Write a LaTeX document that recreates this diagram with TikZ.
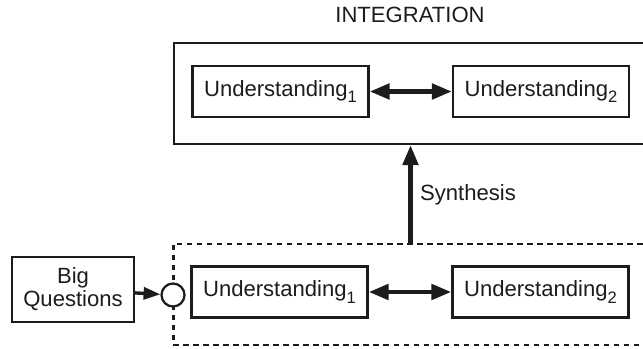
\documentclass[tikz,border=0pt]{standalone}
\usepackage{fontspec}
\setmainfont{Liberation Sans}
\usepackage{tikz}
\usetikzlibrary{arrows.meta,positioning}
\definecolor{inkdark}{RGB}{30,27,28}
\newcommand{\lowidx}[1]{\raisebox{-4.3pt}{\fontsize{11.8}{12}\selectfont #1}}

\begin{document}
\begin{tikzpicture}[
        x=0.025cm, y=-0.025cm,
        line width=1.6pt, color=inkdark,
        font=\fontsize{15.7}{16.4}\selectfont,
        box/.style={draw, rectangle, minimum width=4.4cm, minimum height=1.275cm, inner sep=0pt},
        frame/.style={draw, rectangle, minimum width=11.85cm, minimum height=2.525cm, inner sep=0pt},
        bigarrow/.style={line width=3.2pt, -{Triangle[length=0.5cm,width=0.38cm]}},
        twoway/.style={line width=3.2pt, {Triangle[length=0.5cm,width=0.38cm]}-{Triangle[length=0.5cm,width=0.38cm]}},
        smallarrow/.style={line width=2.4pt, -{Triangle[length=0.42cm,width=0.3cm]}}
    ]
        \useasboundingbox (0,0) rectangle (643,348);
        % integration level
        \node (title) at (410,15) {INTEGRATION};
        \node[frame] (integ) at (411,93.5) {};
        \node[box] (topone) at (280.5,91.5) {Understanding\lowidx{1}};
        \node[box] (toptwo) at (541,91.5) {Understanding\lowidx{2}};
        \draw[twoway] (topone) -- (toptwo);
        % disciplinary level
        \node[frame, dash pattern=on 0.13cm off 0.12cm] (study) at (410.5,294.5) {};
        \node[box] (lowone) at (279.5,292) {Understanding\lowidx{1}};
        \node[box] (lowtwo) at (540.5,292) {Understanding\lowidx{2}};
        \draw[twoway] (lowone) -- (lowtwo);
        \node[draw, circle, fill=white, minimum size=0.575cm, inner sep=0pt] (gate) at (173,295) {};
        \node[box, minimum width=3.05cm, minimum height=1.625cm, align=center] (big) at (73,289.5) {Big\\Questions};
        \draw[smallarrow] (big) -- (gate);
        \draw[bigarrow] (study.north) -- (study.north |- integ.south);
        \node (synlabel) at (468,195) {Synthesis};
    \end{tikzpicture}
\end{document}
